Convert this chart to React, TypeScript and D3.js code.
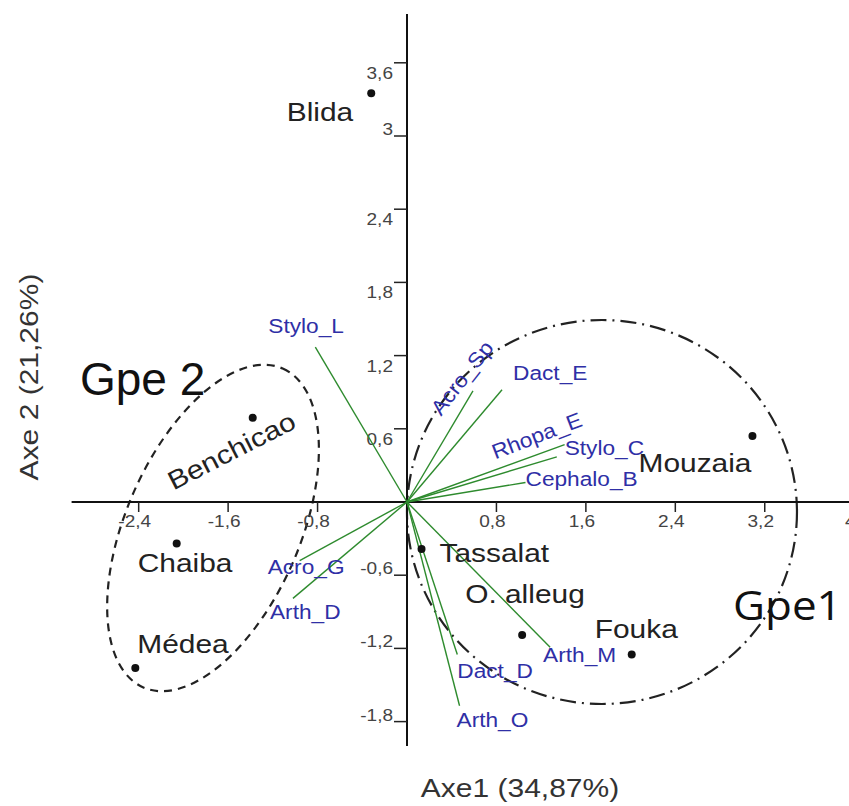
import React from "react";
import * as d3 from "d3";

// ---- data ----
const xTicks = [-2.4, -1.6, -0.8, 0.8, 1.6, 2.4, 3.2, 4];
const yTicks = [3.6, 3, 2.4, 1.8, 1.2, 0.6, -0.6, -1.2, -1.8];
const yTicksLabelBelow = [3.6, 2.4, 1.8, 1.2, 0.6];

const siteNames = ["Blida", "Benchicao", "Chaiba", "Médea", "Tassalat", "O. alleug", "Fouka", "Mouzaia"];
const siteAxe1 = [-0.32, -1.38, -2.06, -2.43, 0.13, 1.03, 2.01, 3.09];
const siteAxe2 = [3.35, 0.69, -0.34, -1.36, -0.385, -1.09, -1.25, 0.54];

const varNames = ["Stylo_L", "Acro_Sp", "Dact_E", "Rhopa_E", "Stylo_C", "Cephalo_B", "Acro_G", "Arth_D", "Arth_M", "Dact_D", "Arth_O"];
const varAxe1 = [-0.82, 0.59, 0.85, 1.34, 1.41, 1.06, -0.96, -1.02, 1.28, 0.45, 0.47];
const varAxe2 = [1.27, 0.91, 0.92, 0.37, 0.47, 0.16, -0.48, -0.79, -1.19, -1.25, -1.67];

const groupNames = ["Gpe 2", "Gpe1"];
const groupCenterAxe1 = [-1.735, 1.744];
const groupCenterAxe2 = [-0.213, -0.082];

const xTitle = "Axe1 (34,87%)";
const yTitle = "Axe 2 (21,26%)";

// ---- layout / style ----
const W = 849;
const H = 806;
const siteLabelStyle: Record<string, { dx: number; dy: number; anchor: string; rot?: number }> = {
  Blida: { dx: -18, dy: 28, anchor: "end" },
  Benchicao: { dx: -17, dy: 41, anchor: "middle", rot: -27 },
  Chaiba: { dx: -39, dy: 29, anchor: "start" },
  "Médea": { dx: 2, dy: -15, anchor: "start" },
  Tassalat: { dx: 18, dy: 13, anchor: "start" },
  "O. alleug": { dx: -57, dy: -32, anchor: "start" },
  Fouka: { dx: -37, dy: -17, anchor: "start" },
  Mouzaia: { dx: -1, dy: 36, anchor: "end" },
};
const varLabelStyle: Record<string, { dx: number; dy: number; anchor: string; rot?: number; central?: boolean }> = {
  Stylo_L: { dx: -47, dy: -14, anchor: "start" },
  Acro_Sp: { dx: -11, dy: -13, anchor: "middle", rot: -52, central: true },
  Dact_E: { dx: 11, dy: -10, anchor: "start" },
  Rhopa_E: { dx: -20, dy: -21, anchor: "middle", rot: -21, central: true },
  Stylo_C: { dx: 0, dy: 10, anchor: "start" },
  Cephalo_B: { dx: 0, dy: 4, anchor: "start" },
  Acro_G: { dx: -32, dy: 13, anchor: "start" },
  Arth_D: { dx: -23, dy: 21, anchor: "start" },
  Arth_M: { dx: -7, dy: 15, anchor: "start" },
  Dact_D: { dx: 0, dy: 23, anchor: "start" },
  Arth_O: { dx: -3, dy: 21, anchor: "start" },
};
const groupEllipseStyle = [
  { rx: 174, ry: 87, rot: -66.4, dash: "8 6" },
  { rx: 195, ry: 192, rot: 0, dash: "16 6 2 6" },
];

const ARIAL = "'Liberation Sans', Arial, sans-serif";

function SText(props: {
  x: number; y: number; text: string; size: number; sx?: number; rot?: number;
  anchor?: string; fill?: string; family?: string; central?: boolean;
}) {
  const { x, y, text, size, sx = 1, rot = 0, anchor = "start", fill = "#222", family = ARIAL, central } = props;
  return (
    <g transform={`translate(${x},${y}) rotate(${rot}) scale(${sx},1)`}>
      <text
        x={0}
        y={0}
        fontSize={size}
        fontFamily={family}
        textAnchor={anchor as any}
        dominantBaseline={central ? "central" : undefined}
        fill={fill}
      >
        {text}
      </text>
    </g>
  );
}

export default function App() {
  const x = d3.scaleLinear().domain([-3, 4]).range([71.6, 854.2]);
  const y = d3.scaleLinear().domain([-2, 4]).range([746, 14]);
  const x0 = x(0);
  const y0 = y(0);
  const fmt = (v: number) => String(v).replace(".", ",");

  const tickColor = "#444";
  const varColor = "#2f2fa6";
  const lineColor = "#2e8b2e";

  return (
    <svg
      width={W}
      height={H}
      viewBox={`0 0 ${W} ${H}`}
      style={{ position: "absolute", left: 0, top: 0, background: "#fff" }}
    >
      <rect x={0} y={0} width={W} height={H} fill="#fff" />

      {/* group ellipses */}
      {groupNames.map((g, i) => {
        const cx = x(groupCenterAxe1[i]);
        const cy = y(groupCenterAxe2[i]);
        const s = groupEllipseStyle[i];
        return (
          <ellipse
            key={g}
            cx={0}
            cy={0}
            rx={s.rx}
            ry={s.ry}
            transform={`translate(${cx},${cy}) rotate(${s.rot})`}
            fill="none"
            stroke="#222"
            strokeWidth={2.2}
            strokeDasharray={s.dash}
          />
        );
      })}

      {/* axes */}
      <line x1={x(-3)} x2={W} y1={y0} y2={y0} stroke="#111" strokeWidth={2} />
      <line x1={x0} x2={x0} y1={y(4)} y2={y(-2)} stroke="#111" strokeWidth={2} />

      {xTicks.map((t) => (
        <g key={"xt" + t}>
          <line x1={x(t)} x2={x(t)} y1={y0} y2={y0 + 10} stroke="#222" strokeWidth={1.5} />
          <SText x={x(t) - 4} y={y0 + 25} text={fmt(t)} size={17} sx={1.12} anchor="middle" fill={tickColor} />
        </g>
      ))}
      {yTicks.map((t) => {
        const below = yTicksLabelBelow.includes(t);
        return (
          <g key={"yt" + t}>
            <line x1={x0 - 13} x2={x0} y1={y(t)} y2={y(t)} stroke="#222" strokeWidth={1.5} />
            <SText
              x={x0 - 14}
              y={below ? y(t) + 16 : y(t) - 1}
              text={fmt(t)}
              size={17}
              sx={1.12}
              anchor="end"
              fill={tickColor}
            />
          </g>
        );
      })}

      {/* variable vectors */}
      {varNames.map((v, i) => (
        <line
          key={"vl" + v}
          x1={x0}
          y1={y0}
          x2={x(varAxe1[i])}
          y2={y(varAxe2[i])}
          stroke={lineColor}
          strokeWidth={1.4}
        />
      ))}
      {varNames.map((v, i) => {
        const s = varLabelStyle[v];
        return (
          <SText
            key={"vt" + v}
            x={x(varAxe1[i]) + s.dx}
            y={y(varAxe2[i]) + s.dy}
            text={v}
            size={21}
            sx={1.08}
            rot={s.rot || 0}
            anchor={s.anchor}
            central={s.central}
            fill={varColor}
          />
        );
      })}

      {/* sites */}
      {siteNames.map((n, i) => (
        <circle key={"sd" + n} cx={x(siteAxe1[i])} cy={y(siteAxe2[i])} r={4} fill="#111" />
      ))}
      {siteNames.map((n, i) => {
        const s = siteLabelStyle[n];
        return (
          <SText
            key={"st" + n}
            x={x(siteAxe1[i]) + s.dx}
            y={y(siteAxe2[i]) + s.dy}
            text={n}
            size={26}
            sx={1.15}
            rot={s.rot || 0}
            anchor={s.anchor}
            fill="#222"
          />
        );
      })}

      {/* group labels */}
      <SText x={80} y={395} text={groupNames[0]} size={46} fill="#111" />
      <SText x={733} y={620} text={groupNames[1]} size={40} sx={1.1} fill="#111" family="'Open Sans', sans-serif" />

      {/* axis titles */}
      <SText x={520} y={797} text={xTitle} size={25} sx={1.2} anchor="middle" fill="#333" />
      <SText x={38} y={377} text={yTitle} size={25} sx={1.2} rot={-90} anchor="middle" fill="#333" />
    </svg>
  );
}
